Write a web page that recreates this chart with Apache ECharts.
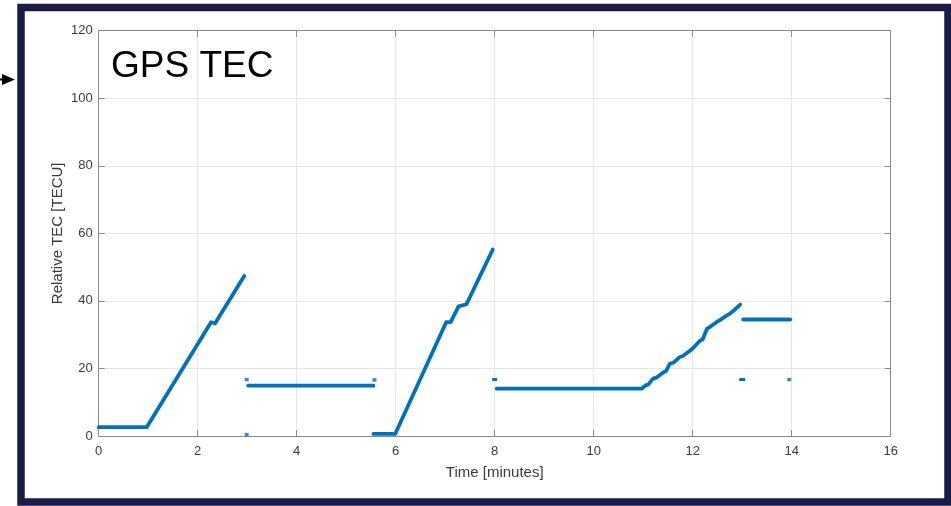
<!DOCTYPE html>
<html>
<head>
<meta charset="utf-8">
<script src="https://cdn.jsdelivr.net/npm/echarts@6/dist/echarts.min.js"></script>
<style>
  html, body { margin: 0; padding: 0; background: #ffffff; }
  #chart { width: 951px; height: 506px; }
</style>
</head>
<body>
<div id="chart"></div>
<script>
// ---- Data (time in minutes, relative TEC in TECU) ----
var xTicks = [0, 2, 4, 6, 8, 10, 12, 14, 16];
var yTicks = [0, 20, 40, 60, 80, 100, 120];

var segRise1 = [[0, 2.6], [0.97, 2.6], [2.27, 33.7], [2.35, 33.3], [2.94, 47.4]];
var segFlat1 = [[3.02, 14.9], [5.55, 14.9]];
var segRise2 = [[5.55, 0.6], [5.99, 0.6], [7.02, 33.7], [7.11, 33.7], [7.27, 38.4], [7.43, 39.0], [7.96, 55.2]];
var segRise3 = [[8.04, 14.0], [10.97, 14.0], [11.05, 15.0], [11.1, 15.2], [11.2, 17.0], [11.27, 17.3],
                [11.41, 18.9], [11.46, 19.2], [11.54, 21.4], [11.62, 21.8], [11.74, 23.4], [11.8, 23.7],
                [11.95, 25.3], [12.0, 25.9], [12.15, 28.3], [12.2, 28.6], [12.29, 31.8], [12.36, 32.4],
                [12.48, 33.7], [12.55, 34.3], [12.69, 35.7], [12.74, 36.1], [12.85, 37.4], [12.96, 38.9]];
var segFlat2 = [[13.02, 34.5], [13.97, 34.5]];
var dash8 = [[7.95, 16.7], [8.05, 16.7]];
var dash13 = [[12.94, 16.7], [13.06, 16.7]];
var dots = [[2.99, 16.7], [2.99, 0.4], [5.57, 16.6], [13.95, 16.7]];

var lineColor = '#0072BD';
var axisColor = '#8a8a8a';
var labelColor = '#3a3a3a';
var fontFam = '"Liberation Sans", Arial, Helvetica, sans-serif';

function lineSeries(data, w, cap) {
  return {
    type: 'line', data: data, xAxisIndex: 0, yAxisIndex: 0,
    showSymbol: false, symbol: 'none', animation: false,
    lineStyle: { color: lineColor, width: w || 3.8, cap: cap || 'round', join: 'round' },
    emphasis: { disabled: true }, silent: true
  };
}

var chart = echarts.init(document.getElementById('chart'), null, { renderer: 'canvas' });
var option = {
  animation: false,
  backgroundColor: '#ffffff',
  grid: { left: 98.7, right: 60.3, top: 30.7, bottom: 70, containLabel: false },
  xAxis: [
    {
      type: 'value', min: 0, max: 16, interval: 2,
      name: 'Time [minutes]', nameLocation: 'middle', nameGap: 29, nameMoveOverlap: false,
      nameTextStyle: { color: labelColor, fontSize: 15, fontFamily: fontFam },
      axisLine: { show: true, onZero: false, lineStyle: { color: axisColor, width: 1 } },
      axisTick: { show: true, inside: true, length: 6, lineStyle: { color: axisColor } },
      axisLabel: { color: labelColor, fontSize: 13, fontFamily: fontFam, margin: 9 },
      splitLine: { show: true, lineStyle: { color: '#e6e6e6', width: 1 } }
    },
    {
      type: 'value', position: 'top', min: 0, max: 16, interval: 2,
      axisLine: { show: true, onZero: false, lineStyle: { color: axisColor, width: 1 } },
      axisTick: { show: true, inside: true, length: 6, lineStyle: { color: axisColor } },
      axisLabel: { show: false }, splitLine: { show: false }
    }
  ],
  yAxis: [
    {
      type: 'value', min: 0, max: 120, interval: 20,
      name: 'Relative TEC [TECU]', nameLocation: 'middle', nameGap: 33, nameMoveOverlap: false,
      nameTextStyle: { color: labelColor, fontSize: 15, fontFamily: fontFam },
      axisLine: { show: true, onZero: false, lineStyle: { color: axisColor, width: 1 } },
      axisTick: { show: true, inside: true, length: 6, lineStyle: { color: axisColor } },
      axisLabel: { color: labelColor, fontSize: 13, fontFamily: fontFam, margin: 6 },
      splitLine: { show: true, lineStyle: { color: '#e6e6e6', width: 1 } }
    },
    {
      type: 'value', position: 'right', min: 0, max: 120, interval: 20,
      axisLine: { show: true, onZero: false, lineStyle: { color: axisColor, width: 1 } },
      axisTick: { show: true, inside: true, length: 6, lineStyle: { color: axisColor } },
      axisLabel: { show: false }, splitLine: { show: false }
    }
  ],
  series: [
    lineSeries(segRise1),
    lineSeries(segFlat1),
    lineSeries(segRise2),
    lineSeries(segRise3),
    lineSeries(segFlat2),
    lineSeries(dash8, 3, 'butt'),
    lineSeries(dash13, 3, 'butt'),
    {
      type: 'scatter', data: dots, symbol: 'rect', symbolSize: [4, 3.5],
      itemStyle: { color: lineColor }, silent: true, animation: false
    }
  ],
  graphic: [
    {
      type: 'rect', silent: true,
      shape: { x: 21, y: 7.5, width: 927, height: 494.5 },
      style: { fill: null, stroke: '#1b1b4a', lineWidth: 7.5 }
    },
    {
      type: 'line', silent: true,
      shape: { x1: -4, y1: 79.5, x2: 6, y2: 79.5 },
      style: { stroke: '#000000', lineWidth: 2 }
    },
    {
      type: 'polygon', silent: true,
      shape: { points: [[2, 74], [15, 79.5], [2, 85]] },
      style: { fill: '#000000' }
    },
    {
      type: 'text', silent: true, x: 111, y: 66.5,
      style: { text: 'GPS TEC', fill: '#000000', font: '37px ' + fontFam, textAlign: 'left', textVerticalAlign: 'middle', verticalAlign: 'middle' }
    }
  ]
};
chart.setOption(option);
</script>
</body>
</html>
